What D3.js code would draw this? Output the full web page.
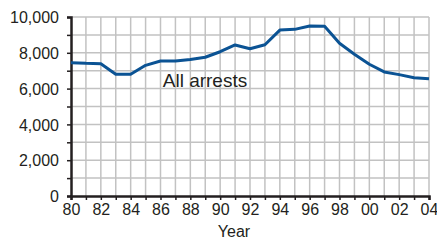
<!DOCTYPE html>
<html>
<head>
<meta charset="utf-8">
<script src="https://cdn.jsdelivr.net/npm/d3@7"></script>
<style>
  body { margin: 0; background: #fff; }
  text { font-family: "Liberation Sans", Arial, sans-serif; fill: #231f20; }
</style>
</head>
<body>
<div id="chart"></div>
<script>
// data
var years = [1980, 1981, 1982, 1983, 1984, 1985, 1986, 1987, 1988, 1989, 1990, 1991,
  1992, 1993, 1994, 1995, 1996, 1997, 1998, 1999, 2000, 2001, 2002, 2003, 2004];
var arrests = [7450, 7410, 7390, 6800, 6800, 7300, 7540, 7540, 7620, 7750, 8060, 8440,
  8230, 8450, 9270, 9310, 9500, 9480, 8530, 7920, 7360, 6930, 6780, 6610, 6550];
var xTickYears = [1980, 1982, 1984, 1986, 1988, 1990, 1992, 1994, 1996, 1998, 2000, 2002, 2004];
var yTicks = [0, 2000, 4000, 6000, 8000, 10000];
var seriesLabel = "All arrests";

var svgWidth = 437;
var svgHeight = 240;
var margin = { top: 17, right: 8, bottom: 44, left: 71 };
var width = svgWidth - margin.left - margin.right;
var height = svgHeight - margin.top - margin.bottom;

var svg = d3.select("#chart")
  .append("svg")
  .attr("width", svgWidth)
  .attr("height", svgHeight);

var chartGroup = svg.append("g")
  .attr("transform", `translate(${margin.left}, ${margin.top})`);

var x = d3.scaleLinear().domain([1980, 2004]).range([0, width]);
var y = d3.scaleLinear().domain([0, 10000]).range([height, 0]);

// grid, one line per year and per 1,000
chartGroup.append("g")
  .selectAll("line")
  .data(d3.range(1981, 2005))
  .enter()
  .append("line")
  .attr("x1", d => x(d)).attr("x2", d => x(d))
  .attr("y1", 0).attr("y2", height)
  .attr("stroke", "#c2c2c2")
  .attr("stroke-width", 1.5);

chartGroup.append("g")
  .selectAll("line")
  .data(d3.range(1000, 10001, 1000))
  .enter()
  .append("line")
  .attr("x1", 0).attr("x2", width)
  .attr("y1", d => y(d)).attr("y2", d => y(d))
  .attr("stroke", "#c2c2c2")
  .attr("stroke-width", 1.5);

// axes
var leftAxis = d3.axisLeft(y)
  .tickValues(d3.range(0, 10001, 1000))
  .tickSize(4)
  .tickPadding(8)
  .tickFormat(d => yTicks.includes(d) ? d3.format(",")(d) : "");

var bottomAxis = d3.axisBottom(x)
  .tickValues(d3.range(1980, 2005))
  .tickSize(4)
  .tickPadding(4)
  .tickFormat(d => xTickYears.includes(d) ? String(d).slice(2) : "");

var yAxis = chartGroup.append("g").call(leftAxis);
var xAxis = chartGroup.append("g")
  .attr("transform", `translate(0, ${height})`)
  .call(bottomAxis);

[xAxis, yAxis].forEach(function(ax) {
  ax.select(".domain").attr("stroke", "#231f20").attr("stroke-width", 2.5);
  ax.selectAll(".tick line").attr("stroke", "#231f20").attr("stroke-width", 1.5);
  ax.selectAll("text")
    .style("font-family", "'Liberation Sans', Arial, sans-serif")
    .attr("font-size", "16px")
    .attr("fill", "#231f20");
});
yAxis.selectAll("text").attr("dy", "0.36em");

// line
var line = d3.line()
  .x((d, i) => x(years[i]))
  .y(d => y(d));

chartGroup.append("path")
  .datum(arrests)
  .attr("d", line)
  .attr("fill", "none")
  .attr("stroke", "#0b5394")
  .attr("stroke-width", 3)
  .attr("stroke-linejoin", "round");

chartGroup.append("text")
  .attr("x", x(1986.15))
  .attr("y", y(6000) - 2)
  .attr("font-size", "19px")
  .text(seriesLabel);

svg.append("text")
  .attr("x", 234)
  .attr("y", 237)
  .attr("text-anchor", "middle")
  .attr("font-size", "16px")
  .text("Year");
</script>
</body>
</html>
